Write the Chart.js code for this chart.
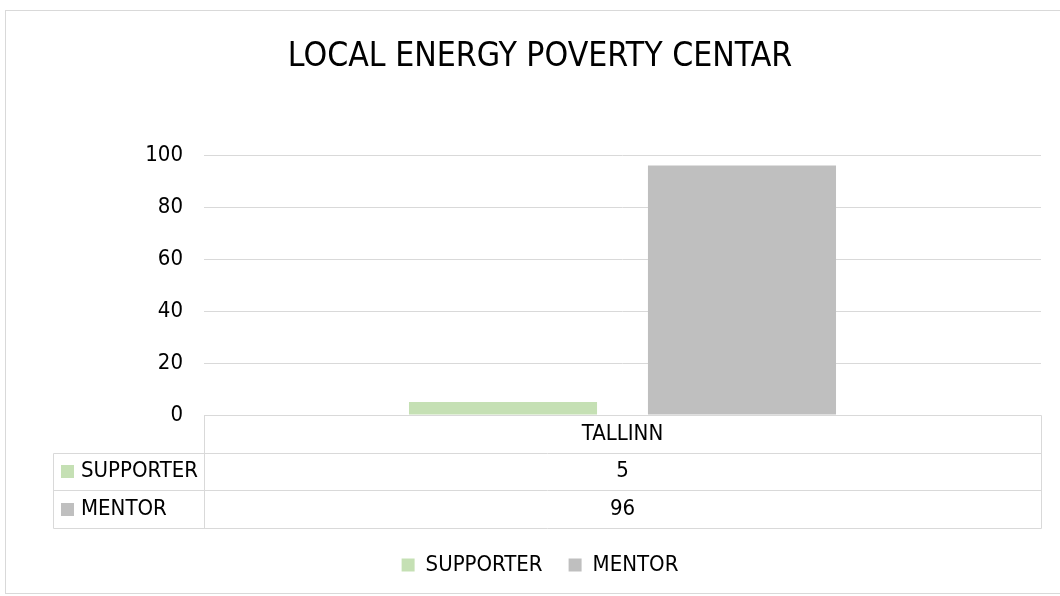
<!DOCTYPE html>
<html>
<head>
<meta charset="utf-8">
<script src="https://cdn.jsdelivr.net/npm/chart.js@4.4.1/dist/chart.umd.min.js"></script>
<style>
  html, body { margin: 0; padding: 0; background: #fff; }
  #wrap { width: 1060px; height: 596px; }
</style>
</head>
<body>
<div id="wrap"><canvas id="chart"></canvas></div>
<script>
// chart data
const categories = ["TALLINN"];
const seriesNames = ["SUPPORTER", "MENTOR"];
const supporterValues = [5];
const mentorValues = [96];
const yTicks = [0, 20, 40, 60, 80, 100];
const seriesColors = ["#c5e0b4", "#bfbfbf"];

const FONT = "'Liberation Sans Narrow', 'DejaVu Sans Condensed', 'Liberation Sans', sans-serif";

// light grey frame round the whole chart
const frame = {
    id: "frame",
    beforeDraw(chart) {
        const ctx = chart.ctx;
        ctx.save();
        ctx.strokeStyle = "#d9d9d9";
        ctx.lineWidth = 1;
        ctx.strokeRect(5.5, 10.5, 1100, 583);
        ctx.restore();
    }
};

// Excel style data table under the plot
const dataTable = {
    id: "dataTable",
    afterDraw(chart) {
        const { ctx, chartArea: a, scales: { x } } = chart;
        const rows = chart.data.datasets;
        const rowH = 37.7;
        const tableLeft = 53;
        const top = a.bottom;
        const bottom = top + rowH * (rows.length + 1);
        const r = v => Math.round(v) + 0.5;
        const line = (x1, y1, x2, y2) => {
            ctx.beginPath();
            ctx.moveTo(x1, y1);
            ctx.lineTo(x2, y2);
            ctx.stroke();
        };

        ctx.save();
        ctx.strokeStyle = "#d9d9d9";
        ctx.lineWidth = 1;
        line(r(a.left), r(top), r(a.right), r(top));
        for (let i = 1; i <= rows.length + 1; i++) {
            line(r(tableLeft), r(top + rowH * i), r(a.right), r(top + rowH * i));
        }
        line(r(a.left), r(top), r(a.left), r(bottom));
        line(r(a.right), r(top), r(a.right), r(bottom));
        line(r(tableLeft), r(top + rowH), r(tableLeft), r(bottom));

        ctx.font = "22px " + FONT;
        ctx.textBaseline = "middle";
        ctx.fillStyle = "#000";
        ctx.textAlign = "center";
        categories.forEach((c, j) => {
            const cx = x.getPixelForValue(j);
            ctx.fillText(c, cx, top + rowH / 2);
            rows.forEach((ds, i) => {
                ctx.fillText(String(ds.data[j]), cx, top + rowH * (i + 1.5));
            });
        });

        ctx.textAlign = "left";
        rows.forEach((ds, i) => {
            const cy = top + rowH * (i + 1.5);
            ctx.fillStyle = ds.backgroundColor;
            ctx.fillRect(61, Math.round(cy - 6.5), 13, 13);
            ctx.fillStyle = "#000";
            ctx.fillText(ds.label, 81, cy);
        });
        ctx.restore();
    }
};

const ctx = document.getElementById("chart").getContext("2d");

new Chart(ctx, {
    type: "bar",
    data: {
        labels: categories,
        datasets: [
            { label: seriesNames[0], data: supporterValues, backgroundColor: seriesColors[0] },
            { label: seriesNames[1], data: mentorValues, backgroundColor: seriesColors[1] }
        ]
    },
    options: {
        responsive: true,
        maintainAspectRatio: false,
        animation: false,
        layout: { padding: { left: 20, right: 0, top: 0, bottom: 10 } },
        datasets: {
            bar: { barPercentage: 0.787, categoryPercentage: 0.571 }
        },
        scales: {
            x: {
                grid: { display: false },
                border: { display: false },
                ticks: { display: false },
                afterFit(scale) { scale.height = 113; }
            },
            y: {
                min: yTicks[0],
                max: yTicks[yTicks.length - 1],
                afterBuildTicks(scale) { scale.ticks = yTicks.map(v => ({ value: v })); },
                grid: { color: "#d9d9d9", drawTicks: false },
                border: { display: false },
                ticks: { color: "#000", padding: 21, font: { family: FONT, size: 22 } },
                afterFit(scale) { scale.width = 184; }
            },
            // empty right-hand axis, only keeps a margin on the right
            yRight: {
                position: "right",
                grid: { display: false },
                border: { display: false },
                ticks: { display: false },
                afterFit(scale) { scale.width = 19; }
            }
        },
        plugins: {
            title: {
                display: true,
                text: "LOCAL ENERGY POVERTY CENTAR",
                color: "#000",
                font: { family: FONT, size: 33.5, weight: "normal", lineHeight: 1.2 },
                padding: { top: 37, bottom: 77.8 }
            },
            legend: {
                position: "bottom",
                labels: {
                    color: "#000",
                    boxWidth: 13,
                    boxHeight: 13,
                    padding: 26,
                    font: { family: FONT, size: 22 }
                }
            },
            tooltip: { enabled: false }
        }
    },
    plugins: [frame, dataTable]
});
</script>
</body>
</html>
